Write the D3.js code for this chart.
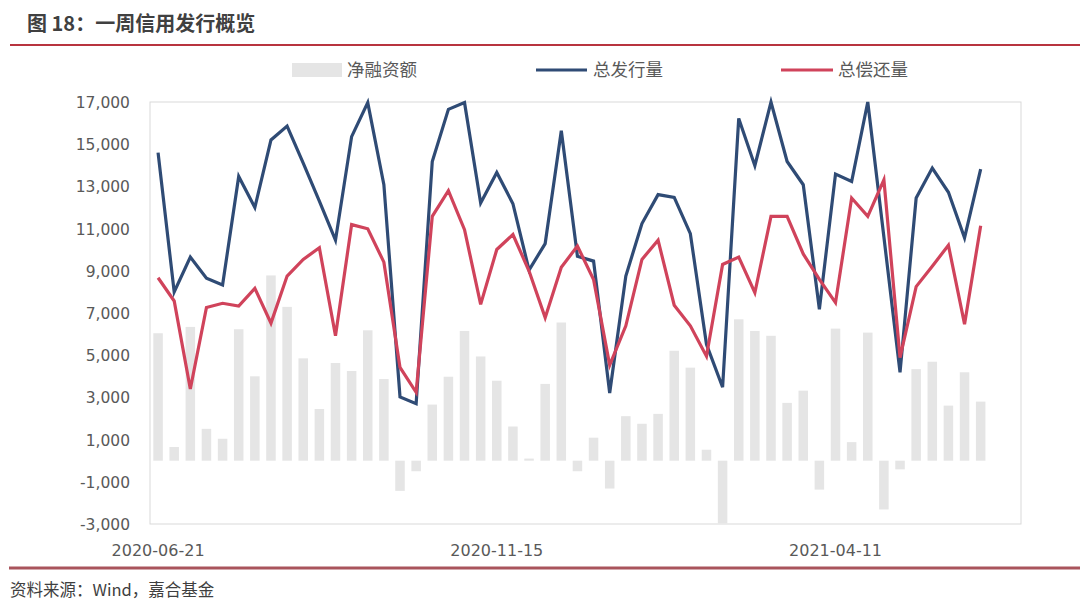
<!DOCTYPE html>
<html><head><meta charset="utf-8">
<script src="https://cdn.jsdelivr.net/npm/d3@7"></script>
<style>body{margin:0;background:#fff;}svg{display:block;}</style>
</head><body>
<svg id="c" width="1080" height="603"></svg>
<script>
const dates = ["2020-06-21","2020-06-28","2020-07-05","2020-07-12","2020-07-19","2020-07-26","2020-08-02","2020-08-09","2020-08-16","2020-08-23","2020-08-30","2020-09-06","2020-09-13","2020-09-20","2020-09-27","2020-10-04","2020-10-11","2020-10-18","2020-10-25","2020-11-01","2020-11-08","2020-11-15","2020-11-22","2020-11-29","2020-12-06","2020-12-13","2020-12-20","2020-12-27","2021-01-03","2021-01-10","2021-01-17","2021-01-24","2021-01-31","2021-02-07","2021-02-14","2021-02-21","2021-02-28","2021-03-07","2021-03-14","2021-03-21","2021-03-28","2021-04-04","2021-04-11","2021-04-18","2021-04-25","2021-05-02","2021-05-09","2021-05-16","2021-05-23","2021-05-30","2021-06-06","2021-06-13","2021-06-20","2021-06-27"];
const netFinancing = [6040,650,6340,1510,1040,6230,4000,8780,7290,4850,2450,4630,4250,6180,3870,-1430,-500,2660,3980,6150,4940,3790,1620,100,3640,6550,-500,1090,-1320,2110,1750,2220,5210,4410,520,-2970,6700,6150,5920,2740,3320,-1370,6260,880,6070,-2310,-410,4340,4690,2610,4190,2800];
const totalIssue = [14600,8000,9650,8650,8330,13470,12000,15200,15860,14100,12300,10450,15360,16970,13080,3020,2700,14180,16650,16970,12210,13660,12180,9030,10290,15640,9690,9460,3210,8750,11240,12610,12480,10760,5520,3480,16220,13980,17000,14180,13080,7180,13580,13230,17000,10600,4190,12450,13870,12720,10560,13820];
const totalRepay = [8670,7570,3400,7260,7460,7330,8170,6520,8750,9540,10090,5920,11190,10990,9410,4420,3240,11580,12800,10950,7410,10010,10720,8990,6780,9170,10170,8590,4530,6390,9540,10450,7370,6390,4950,9300,9650,7960,11580,11580,9800,8590,7490,12450,11580,13310,4890,8250,9220,10210,6470,11140];
const yTicks = [-3000,-1000,1000,3000,5000,7000,9000,11000,13000,15000,17000];
const xTickLabels = ["2020-06-21","2020-11-15","2021-04-11"];
const seriesNames = ["净融资额","总发行量","总偿还量"];
const titleText = "图 18：一周信用发行概览";
const sourceText = "资料来源：Wind，嘉合基金";

const svg = d3.select("#c");
const L = 150, R = 1021, T = 102, B = 524;
const x = d3.scaleBand().domain(dates).range([L, R]).paddingInner(0.41).paddingOuter(0.205);
const y = d3.scaleLinear().domain([-3000, 17000]).range([B, T]);
const cx = d => x(d) + x.bandwidth() / 2;

// Title
svg.append("text").attr("x", 27).attr("y", 31).text(titleText)
  .attr("font-family", "'Noto Sans CJK SC'").attr("font-weight", 700)
  .attr("font-size", 20).attr("fill", "#404040");
svg.append("line").attr("x1", 10).attr("x2", 1080).attr("y1", 45).attr("y2", 45)
  .attr("stroke", "#b8343f").attr("stroke-width", 2);

// Plot border
svg.append("rect").attr("x", L).attr("y", T).attr("width", R - L).attr("height", B - T)
  .attr("fill", "none").attr("stroke", "#d9d9d9").attr("stroke-width", 1);

// Bars
svg.append("g").selectAll("rect").data(netFinancing).join("rect")
  .attr("x", (d, i) => x(dates[i]))
  .attr("width", x.bandwidth())
  .attr("y", d => y(Math.max(0, d)))
  .attr("height", d => Math.abs(y(d) - y(0)))
  .attr("fill", "#e5e5e5");

// Lines
const line = d3.line().x((d, i) => cx(dates[i])).y(d => y(d));
svg.append("path").datum(totalIssue).attr("d", line).attr("fill", "none")
  .attr("stroke", "#2f4b75").attr("stroke-width", 3.2).attr("stroke-linejoin", "miter");
svg.append("path").datum(totalRepay).attr("d", line).attr("fill", "none")
  .attr("stroke", "#d0435b").attr("stroke-width", 3.2).attr("stroke-linejoin", "miter");

// Y axis
const fmt = d3.format(",");
const yAxis = d3.axisLeft(y).tickValues(yTicks).tickSize(0).tickPadding(0)
  .tickFormat(d => fmt(d).replace("\u2212", "-"));
const gy = svg.append("g").attr("transform", `translate(${130},0)`).call(yAxis);
gy.select(".domain").remove();
gy.selectAll("text").attr("font-family", "'DejaVu Sans'").attr("font-size", 15.5)
  .attr("fill", "#595959").attr("dy", "0.35em");

// X axis
const xAxis = d3.axisBottom(x).tickValues(xTickLabels).tickSize(0).tickPadding(0);
const gx = svg.append("g").attr("transform", `translate(0,${B + 26})`).call(xAxis);
gx.select(".domain").remove();
gx.selectAll("text").attr("font-family", "'DejaVu Sans'").attr("font-size", 16)
  .attr("fill", "#595959").attr("dy", "0.35em");

// Legend
const lg = svg.append("g");
lg.append("rect").attr("x", 292).attr("y", 63).attr("width", 50).attr("height", 14).attr("fill", "#e5e5e5");
lg.append("line").attr("x1", 536).attr("x2", 587).attr("y1", 70).attr("y2", 70).attr("stroke", "#2f4b75").attr("stroke-width", 3);
lg.append("line").attr("x1", 781).attr("x2", 833).attr("y1", 70).attr("y2", 70).attr("stroke", "#d0435b").attr("stroke-width", 3);
const legX = [347, 593, 838];
seriesNames.forEach((n, i) => {
  lg.append("text").attr("x", legX[i]).attr("y", 70).attr("dy", "0.35em").text(n)
    .attr("font-family", "'Noto Sans CJK SC'").attr("font-size", 17.5).attr("fill", "#595959");
});

// Footer
svg.append("line").attr("x1", 9).attr("x2", 1080).attr("y1", 568).attr("y2", 568)
  .attr("stroke", "#a9545c").attr("stroke-width", 3);
svg.append("text").attr("x", 10).attr("y", 596).text(sourceText)
  .attr("font-family", "'Noto Sans CJK SC'").attr("font-size", 16.5).attr("fill", "#3f3f3f");
</script>
</body></html>
